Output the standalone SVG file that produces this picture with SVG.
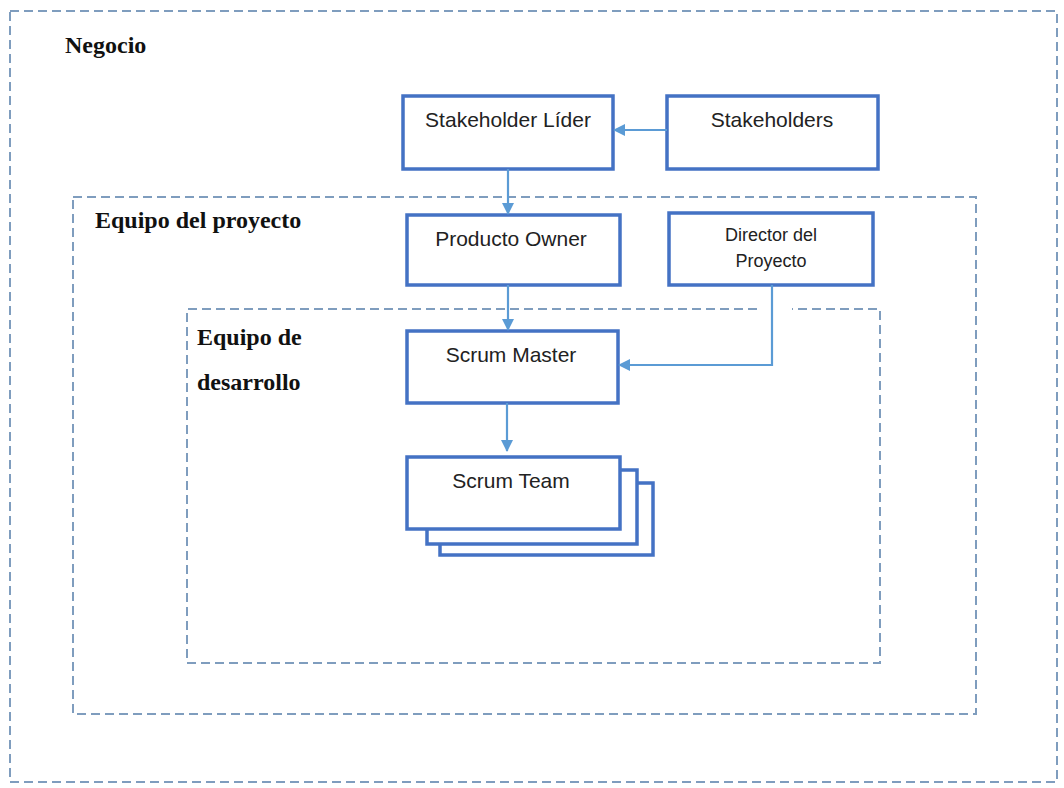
<svg xmlns="http://www.w3.org/2000/svg" width="1064" height="788" viewBox="0 0 1064 788">
<defs>
<style>
.grp{fill:none;stroke:#7F9DBE;stroke-width:2;stroke-dasharray:9 5}
.node{fill:#fff;stroke:#4472C4;stroke-width:3.5}
.lbl{font-family:"Liberation Sans",Arial,sans-serif;font-size:21px;fill:#222;text-anchor:middle}
.sm{font-size:18px}
.title{font-family:"Liberation Serif","Times New Roman",serif;font-weight:bold;font-size:24px;fill:#111}
.conn{fill:none;stroke:#5B9BD5;stroke-width:2.2}
</style>
<marker id="arr" markerWidth="12" markerHeight="12" refX="11" refY="6" orient="auto" markerUnits="userSpaceOnUse">
<path d="M0,0 L12,6 L0,12 z" fill="#5B9BD5"/>
</marker>
</defs>
<rect width="1064" height="788" fill="#fff"/>
<g id="negocio">
<rect class="grp" x="10" y="11" width="1047" height="771"/>
<text class="title" x="65" y="53">Negocio</text>
</g>
<g id="equipo-proyecto">
<rect class="grp" x="73" y="197" width="903" height="517"/>
<text class="title" x="95" y="228">Equipo del proyecto</text>
</g>
<g id="equipo-desarrollo">
<path class="grp" d="M757,309 H187 V663 H880 V309 H792"/>
<text class="title" x="197" y="345">Equipo de</text>
<text class="title" x="197" y="390">desarrollo</text>
</g>
<g id="stakeholder-lider">
<rect class="node" x="403" y="96" width="210" height="73"/>
<text class="lbl" x="508" y="127">Stakeholder Líder</text>
</g>
<g id="stakeholders">
<rect class="node" x="667" y="96" width="211" height="73"/>
<text class="lbl" x="772" y="127">Stakeholders</text>
</g>
<g id="producto-owner">
<rect class="node" x="407" y="215" width="213" height="70"/>
<text class="lbl" x="511" y="246">Producto Owner</text>
</g>
<g id="director">
<rect class="node" x="669" y="213" width="204" height="72"/>
<text class="lbl sm" x="771" y="241">Director del</text>
<text class="lbl sm" x="771" y="267">Proyecto</text>
</g>
<g id="scrum-master">
<rect class="node" x="407" y="331" width="211" height="72"/>
<text class="lbl" x="511" y="362">Scrum Master</text>
</g>
<g id="scrum-team">
<rect class="node" x="440" y="483" width="213" height="72"/>
<rect class="node" x="427" y="470" width="210" height="74"/>
<rect class="node" x="407" y="457" width="213" height="72"/>
<text class="lbl" x="511" y="488">Scrum Team</text>
</g>
<g id="connectors">
<path class="conn" d="M667,130 H614" marker-end="url(#arr)"/>
<path class="conn" d="M508,169 V214" marker-end="url(#arr)"/>
<path class="conn" d="M508,285 V330" marker-end="url(#arr)"/>
<path class="conn" d="M772,285 V365 H619" marker-end="url(#arr)"/>
<path class="conn" d="M507,403 V451" marker-end="url(#arr)"/>
</g>
</svg>
